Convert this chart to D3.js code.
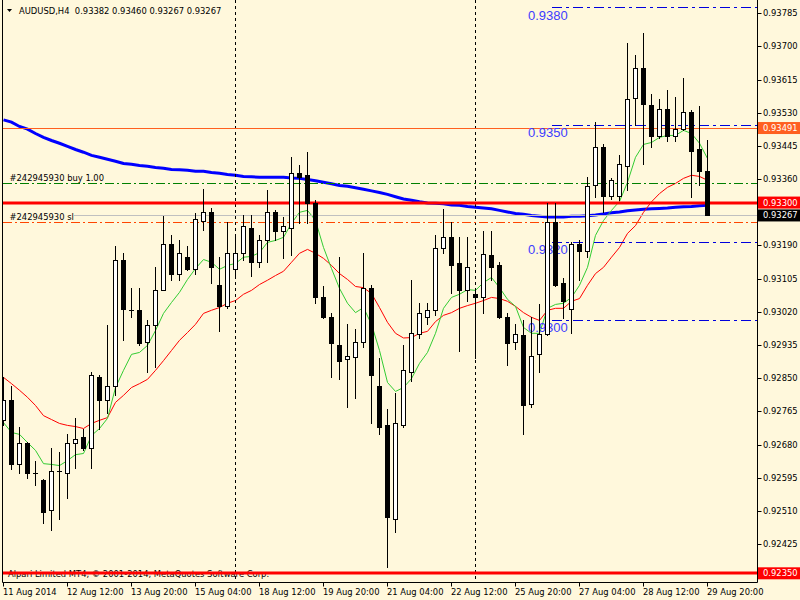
<!DOCTYPE html>
<html>
<head>
<meta charset="utf-8">
<title>AUDUSD,H4</title>
<script src="https://cdn.jsdelivr.net/npm/d3@7"></script>
<style>
  body { margin: 0; background: #fff8dc; }
  svg { display: block; font-family: "DejaVu Sans", Verdana, sans-serif; }
  .small { font-size: 8.4px; white-space: pre; }
</style>
</head>
<body>
<div id="container"></div>
<script>
// H4 bars, bar 0 = 11 Aug 2014 04:00
const opens = [
  0.92742, 0.92793, 0.92629, 0.92685, 0.92608, 0.92590, 0.92513, 0.92612, 0.92608, 0.92683,
  0.92698, 0.92670, 0.92854, 0.92795, 0.92831, 0.93154, 0.93025, 0.93024, 0.92942, 0.92985,
  0.93077, 0.93195, 0.93116, 0.93160, 0.93131, 0.93252, 0.93277, 0.93088, 0.93036, 0.93129,
  0.93170, 0.93236, 0.93147, 0.93203, 0.93277, 0.93226, 0.93236, 0.93375, 0.93370, 0.93298,
  0.93059, 0.93006, 0.92936, 0.92898, 0.92903, 0.92942, 0.93082, 0.92829, 0.92729, 0.92490,
  0.92731, 0.92867, 0.92962, 0.93008, 0.93024, 0.93183, 0.93213, 0.93144, 0.93077, 0.93065,
  0.93059, 0.93165, 0.93139, 0.93006, 0.92942, 0.92960, 0.92783, 0.92913, 0.92962, 0.93249,
  0.93093, 0.93026, 0.93193, 0.93177, 0.93344, 0.93442, 0.93316, 0.93316, 0.93393, 0.93567,
  0.93644, 0.93549, 0.93470, 0.93541, 0.93470, 0.93488, 0.93531, 0.93436, 0.93382
];
const highs = [
  0.92852, 0.92831, 0.92726, 0.92687, 0.92639, 0.92591, 0.92672, 0.92662, 0.92708, 0.92747,
  0.92721, 0.92865, 0.92857, 0.92985, 0.93188, 0.93172, 0.93080, 0.93080, 0.92998, 0.93134,
  0.93265, 0.93218, 0.93203, 0.93188, 0.93272, 0.93334, 0.93285, 0.93160, 0.93249, 0.93211,
  0.93267, 0.93267, 0.93216, 0.93331, 0.93280, 0.93262, 0.93416, 0.93395, 0.93429, 0.93306,
  0.93085, 0.93018, 0.93160, 0.92990, 0.92977, 0.93172, 0.93088, 0.92901, 0.92770, 0.92811,
  0.92936, 0.93101, 0.93042, 0.93042, 0.93218, 0.93283, 0.93249, 0.93211, 0.93213, 0.93082,
  0.93226, 0.93226, 0.93147, 0.93018, 0.92990, 0.92998, 0.93006, 0.93039, 0.93298, 0.93298,
  0.93106, 0.93198, 0.93203, 0.93365, 0.93506, 0.93449, 0.93362, 0.93421, 0.93708, 0.93677,
  0.93734, 0.93577, 0.93565, 0.93588, 0.93570, 0.93618, 0.93536, 0.93547, 0.93460
];
const lows = [
  0.92729, 0.92616, 0.92606, 0.92593, 0.92575, 0.92480, 0.92462, 0.92490, 0.92542, 0.92619,
  0.92667, 0.92621, 0.92721, 0.92760, 0.92806, 0.92947, 0.93006, 0.92936, 0.92865, 0.92878,
  0.93075, 0.93101, 0.93101, 0.93126, 0.93118, 0.93229, 0.93095, 0.92970, 0.93029, 0.93113,
  0.93152, 0.93113, 0.93134, 0.93147, 0.93203, 0.93157, 0.93165, 0.93247, 0.93247, 0.93042,
  0.93003, 0.92852, 0.92847, 0.92777, 0.92800, 0.92929, 0.92736, 0.92708, 0.92365, 0.92457,
  0.92726, 0.92842, 0.92954, 0.92990, 0.93011, 0.93170, 0.93067, 0.92919, 0.93049, 0.92901,
  0.93016, 0.93101, 0.93003, 0.92885, 0.92924, 0.92708, 0.92775, 0.92867, 0.92960, 0.93085,
  0.93003, 0.92967, 0.93101, 0.93160, 0.93313, 0.93277, 0.93308, 0.93306, 0.93331, 0.93498,
  0.93400, 0.93442, 0.93465, 0.93459, 0.93459, 0.93485, 0.93313, 0.93344, 0.93267
];
const closes = [
  0.92793, 0.92629, 0.92683, 0.92606, 0.92606, 0.92508, 0.92613, 0.92612, 0.92683, 0.92695,
  0.92670, 0.92857, 0.92795, 0.92831, 0.93154, 0.93026, 0.93024, 0.92939, 0.92985, 0.93077,
  0.93195, 0.93116, 0.93172, 0.93131, 0.93257, 0.93277, 0.93134, 0.93034, 0.93170, 0.93170,
  0.93239, 0.93147, 0.93203, 0.93277, 0.93226, 0.93241, 0.93375, 0.93365, 0.93298, 0.93057,
  0.93008, 0.92939, 0.92893, 0.92908, 0.92942, 0.93082, 0.92857, 0.92726, 0.92493, 0.92736,
  0.92870, 0.92967, 0.93018, 0.93024, 0.93183, 0.93213, 0.93139, 0.93077, 0.93136, 0.93057,
  0.93167, 0.93136, 0.93006, 0.92939, 0.92962, 0.92780, 0.92908, 0.92962, 0.93249, 0.93088,
  0.93047, 0.93195, 0.93175, 0.93342, 0.93442, 0.93316, 0.93359, 0.93398, 0.93565, 0.93644,
  0.93552, 0.93470, 0.93541, 0.93470, 0.93488, 0.93531, 0.93431, 0.93380, 0.93267
];

// moving averages (green = fast, red = slow, blue = long)
const maFast = [
  0.92736, 0.92711, 0.92706, 0.92685, 0.92665, 0.92631, 0.92629, 0.92626, 0.92639, 0.92654,
  0.92657, 0.92703, 0.92721, 0.92747, 0.92826, 0.92870, 0.92911, 0.92916, 0.92934, 0.92972,
  0.93016, 0.93044, 0.93070, 0.93103, 0.93131, 0.93154, 0.93147, 0.93129, 0.93139, 0.93144,
  0.93160, 0.93162, 0.93172, 0.93198, 0.93203, 0.93211, 0.93247, 0.93275, 0.93280, 0.93254,
  0.93185, 0.93131, 0.93080, 0.93042, 0.93018, 0.93031, 0.92988, 0.92921, 0.92839, 0.92816,
  0.92826, 0.92849, 0.92888, 0.92916, 0.92965, 0.93029, 0.93057, 0.93065, 0.93077, 0.93075,
  0.93095, 0.93108, 0.93082, 0.93052, 0.93034, 0.92980, 0.92965, 0.92965, 0.93029, 0.93039,
  0.93042, 0.93057, 0.93088, 0.93134, 0.93216, 0.93254, 0.93280, 0.93303, 0.93352, 0.93416,
  0.93449, 0.93454, 0.93467, 0.93472, 0.93472, 0.93485, 0.93477, 0.93452, 0.93413
];
const maSlow = [
  0.92852, 0.92836, 0.92819, 0.92801, 0.92780, 0.92754, 0.92744, 0.92734, 0.92729, 0.92726,
  0.92721, 0.92734, 0.92742, 0.92749, 0.92788, 0.92806, 0.92826, 0.92836, 0.92847, 0.92870,
  0.92895, 0.92921, 0.92947, 0.92967, 0.92988, 0.93016, 0.93024, 0.93031, 0.93042, 0.93049,
  0.93065, 0.93075, 0.93090, 0.93101, 0.93113, 0.93124, 0.93147, 0.93170, 0.93180, 0.93170,
  0.93157, 0.93139, 0.93118, 0.93103, 0.93085, 0.93082, 0.93067, 0.93031, 0.92993, 0.92965,
  0.92953, 0.92954, 0.92965, 0.92970, 0.92995, 0.93011, 0.93018, 0.93029, 0.93036, 0.93042,
  0.93049, 0.93057, 0.93054, 0.93047, 0.93034, 0.93018, 0.93006, 0.92998, 0.93024, 0.93029,
  0.93029, 0.93047, 0.93054, 0.93088, 0.93118, 0.93134, 0.93160, 0.93185, 0.93221, 0.93241,
  0.93275, 0.93302, 0.93323, 0.93339, 0.93349, 0.93362, 0.93370, 0.93367, 0.93357
];
const maLong = [
  0.93512, 0.93506, 0.93495, 0.93488, 0.93477, 0.93467, 0.93459, 0.93452, 0.93444, 0.93436,
  0.93429, 0.93421, 0.93416, 0.93411, 0.93406, 0.93400, 0.93398, 0.93395, 0.93393, 0.93390,
  0.93388, 0.93385, 0.93384, 0.93383, 0.93380, 0.93380, 0.93377, 0.93375, 0.93372, 0.93370,
  0.93367, 0.93366, 0.93365, 0.93365, 0.93365, 0.93365, 0.93363, 0.93362, 0.93359, 0.93356,
  0.93352, 0.93348, 0.93344, 0.93342, 0.93338, 0.93334, 0.93330, 0.93326, 0.93321, 0.93315,
  0.93309, 0.93306, 0.93302, 0.93299, 0.93298, 0.93297, 0.93294, 0.93293, 0.93290, 0.93288,
  0.93286, 0.93284, 0.93280, 0.93276, 0.93272, 0.93270, 0.93267, 0.93265, 0.93263, 0.93263,
  0.93263, 0.93265, 0.93265, 0.93266, 0.93268, 0.93271, 0.93274, 0.93276, 0.93279, 0.93281,
  0.93283, 0.93284, 0.93285, 0.93286, 0.93288, 0.93289, 0.93290, 0.93292, 0.93293
];

// time axis
const timeLabels = ["11 Aug 2014", "12 Aug 12:00", "13 Aug 20:00", "15 Aug 04:00", "18 Aug 12:00", "19 Aug 20:00",
                    "21 Aug 04:00", "22 Aug 12:00", "25 Aug 20:00", "27 Aug 04:00", "28 Aug 12:00", "29 Aug 20:00"];
const timeLabelBars = [0, 8, 16, 24, 32, 40, 48, 56, 64, 72, 80, 88];
const weekSeparators = [29, 59];

// price axis (0.93275 sits under the price boxes, not shown)
const priceTicks = [0.93785, 0.93700, 0.93615, 0.93530, 0.93445, 0.93360, 0.93190, 0.93105,
                    0.93020, 0.92935, 0.92850, 0.92765, 0.92680, 0.92595, 0.92510, 0.92425];

// objects on the chart
const fibLevels = [0.9380, 0.9350, 0.9320, 0.9300];
const orderLevels = [0.93350, 0.93250];
const orderTexts = ["#242945930 buy 1.00", "#242945930 sl"];
const levelOrange = 0.93491;
const levelRed = 0.93300;
const levelBid = 0.93267;
const levelLow = 0.92350;
const header = "AUDUSD,H4  0.93382 0.93460 0.93267 0.93267";

// dimensions
const width = 800, height = 600;
const plotLeft = 2.5, plotRight = 757.5, plotBottom = 582.5;

const svg = d3.select("#container").append("svg")
    .attr("width", width)
    .attr("height", height);

svg.append("rect").attr("width", width).attr("height", height).attr("fill", "#fff8dc");

svg.append("clipPath").attr("id", "plot")
   .append("rect").attr("x", 3).attr("y", 0).attr("width", plotRight - 3.5).attr("height", plotBottom);

// scales: one bar every 8px
const x = d3.scaleLinear().domain([0, 88]).range([3.5, 707.5]);
const y = d3.scaleLinear().domain([0.92350, 0.93785]).range([573.3, 13.3]);
const yp = v => Math.round(y(v)) + 0.5;   // crisp 1px lines
const yr = v => Math.round(y(v));

const plot = svg.append("g").attr("clip-path", "url(#plot)");

// moving averages
const maLine = d3.line().x((d, i) => x(i)).y(d => y(d));
plot.append("path").attr("d", maLine(maLong)).attr("fill", "none")
    .attr("stroke", "#0000ff").attr("stroke-width", 3);
plot.append("path").attr("d", maLine(maSlow)).attr("fill", "none")
    .attr("stroke", "#ff0000").attr("stroke-width", 1);
plot.append("path").attr("d", maLine(maFast)).attr("fill", "none")
    .attr("stroke", "#33cc33").attr("stroke-width", 1);

// copyright (under the red line)
plot.append("text").attr("class", "small").attr("x", 8).attr("y", 577)
    .attr("fill", "#000")
    .text("Alpari Limited MT4, \u00a9 2001-2014, MetaQuotes Software Corp.");

// week separators
plot.selectAll(".sep").data(weekSeparators).enter().append("line")
    .attr("x1", d => x(d)).attr("x2", d => x(d))
    .attr("y1", 0).attr("y2", plotBottom)
    .attr("stroke", "#000").attr("stroke-dasharray", "3,3");

// horizontal levels
function hline(level, color, w, dash, x1) {
    const yy = w === 3 ? yr(level) : yp(level);
    plot.append("line")
        .attr("x1", x1 || 3).attr("x2", plotRight)
        .attr("y1", yy).attr("y2", yy)
        .attr("stroke", color).attr("stroke-width", w)
        .attr("stroke-dasharray", dash || null);
}
hline(levelBid, "#c0c0c0", 1);
hline(levelOrange, "#ff6020", 1);
hline(orderLevels[0], "#008000", 1, "9,3,2,3");
hline(orderLevels[1], "#ff4500", 1, "9,3,2,3");
fibLevels.forEach(l => hline(l, "#0000dd", 1, "10,4,3,4", 552));
hline(levelRed, "#ff0000", 3);
hline(levelLow, "#ff0000", 3);

// fibo labels
plot.selectAll(".fib").data(fibLevels).enter().append("text")
    .attr("x", 528).attr("y", d => y(d) + 12.5)
    .attr("font-family", "Liberation Sans, Arial, sans-serif")
    .attr("font-size", "13px").attr("fill", "#3c3cff")
    .text(d => d.toFixed(4));

// order labels, drawn with background
orderLevels.forEach((l, i) => {
    const g = plot.append("g");
    const t = g.append("text").attr("class", "small").attr("x", 9.5).attr("y", yr(l) - 2)
        .attr("fill", "#000")
        .text(orderTexts[i]);
    const bb = t.node().getBBox();
    g.insert("rect", "text").attr("x", 3).attr("y", bb.y)
        .attr("width", bb.x + bb.width - 3).attr("height", bb.height)
        .attr("fill", "#fff8dc");
});

// candles, on top of everything inside the plot
const bars = d3.range(opens.length);
plot.selectAll(".wick").data(bars).enter().append("line")
    .attr("x1", i => x(i)).attr("x2", i => x(i))
    .attr("y1", i => yr(highs[i])).attr("y2", i => yr(lows[i]) + 1)
    .attr("stroke", "#000");

plot.selectAll(".body").data(bars).enter().append("rect")
    .each(function(i) {
        const top = yr(Math.max(opens[i], closes[i]));
        const bot = yr(Math.min(opens[i], closes[i]));
        const r = d3.select(this);
        if (closes[i] > opens[i] && bot - top >= 2) {
            r.attr("x", x(i) - 2).attr("y", top + 0.5)
             .attr("width", 4).attr("height", bot - top)
             .attr("fill", "#fff").attr("stroke", "#000");
        } else {
            r.attr("x", x(i) - 2.5).attr("y", top)
             .attr("width", 5).attr("height", Math.max(1, bot - top + 1))
             .attr("fill", "#000");
        }
    });

// header
svg.append("path").attr("d", "M7,9 L12,9 L9.5,12 Z").attr("fill", "#000");
svg.append("text").attr("class", "small").attr("x", 19).attr("y", 14)
   .attr("fill", "#000").text(header);

// frame
svg.append("line").attr("x1", plotLeft).attr("x2", plotLeft).attr("y1", 0).attr("y2", plotBottom).attr("stroke", "#000");
svg.append("line").attr("x1", plotRight).attr("x2", plotRight).attr("y1", 0).attr("y2", plotBottom).attr("stroke", "#000");
svg.append("line").attr("x1", plotLeft).attr("x2", plotRight).attr("y1", plotBottom).attr("y2", plotBottom).attr("stroke", "#000");

// price axis
const pa = svg.append("g");
pa.selectAll("line").data(priceTicks).enter().append("line")
  .attr("x1", plotRight).attr("x2", plotRight + 4)
  .attr("y1", d => yp(d)).attr("y2", d => yp(d)).attr("stroke", "#000");
pa.selectAll("text").data(priceTicks).enter().append("text")
  .attr("class", "small").attr("x", 763).attr("y", d => y(d) + 3)
  .attr("fill", "#000")
  .text(d => d.toFixed(5));

// time axis
const ta = svg.append("g");
ta.selectAll("line").data(timeLabelBars).enter().append("line")
  .attr("x1", d => x(d)).attr("x2", d => x(d))
  .attr("y1", plotBottom).attr("y2", plotBottom + 4).attr("stroke", "#000");
ta.selectAll("text").data(timeLabelBars).enter().append("text")
  .attr("class", "small").attr("x", d => x(d) - 0.5).attr("y", 595)
  .attr("fill", "#000")
  .text((d, i) => timeLabels[i]);

// price boxes on the right axis
const boxes = [
    { v: levelOrange, c: "#ff6020" },
    { v: levelRed, c: "#ff0000" },
    { v: levelBid, c: "#000000" },
    { v: levelLow, c: "#ff0000" }
];
const bx = svg.selectAll(".box").data(boxes).enter().append("g");
bx.append("rect").attr("x", 758).attr("y", d => y(d.v) - 6)
  .attr("width", 42).attr("height", 12).attr("fill", d => d.c);
bx.append("text").attr("class", "small").attr("x", 763).attr("y", d => y(d.v) + 3)
  .attr("fill", "#fff")
  .text(d => d.v.toFixed(5));
</script>
</body>
</html>
